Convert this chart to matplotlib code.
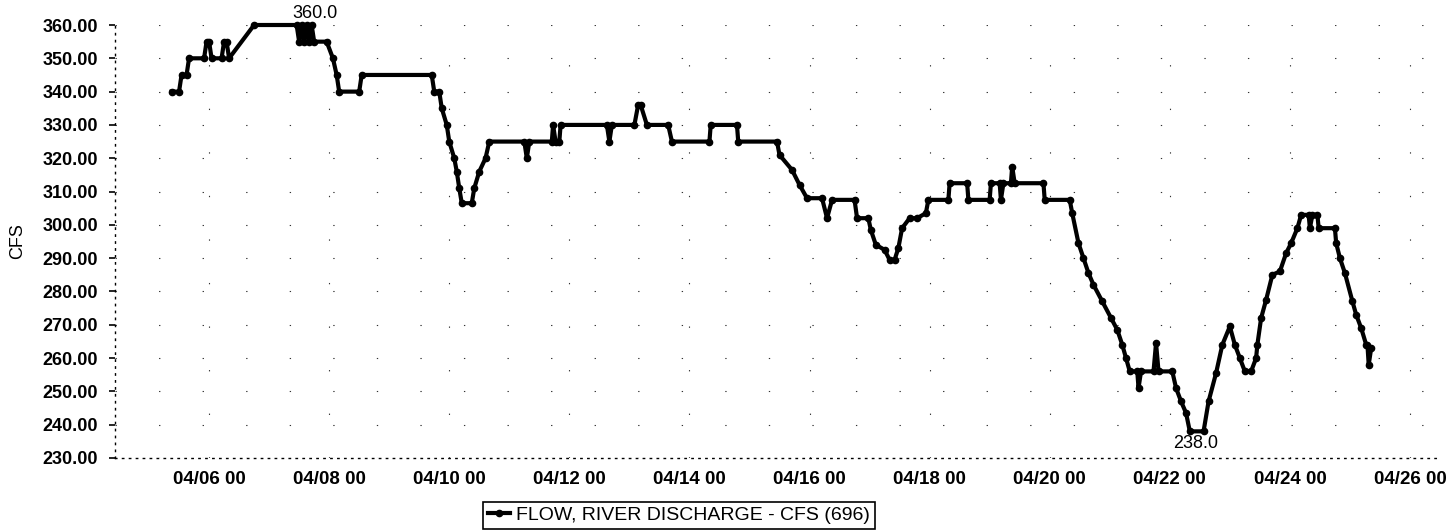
import datetime as dt
import matplotlib
matplotlib.use("Agg")
import matplotlib.pyplot as plt
import matplotlib.dates as mdates

# ---- data (hours relative to 04/06 00:00, flow in CFS) ----
HOURS = [-15, -12, -11, -9, -8, -2, -1, 0, 1, 5, 6, 7, 8,
         18, 35, 36, 37, 38, 39, 40, 41, 42, 47,
         49.5, 51, 52, 60, 61, 89, 90, 92, 93, 95, 96, 98, 99, 100, 101, 105,
         106, 108, 110.5, 112,
         126, 127, 128, 137, 137.5, 138.5, 140, 140.5, 159, 160, 161, 170,
         171.5, 172.5, 175, 183.5, 185, 200, 200.5, 211, 211.5, 227, 228, 233,
         236, 239, 245, 247, 249, 258, 259, 263.5, 264.5, 266.5, 270, 272, 274,
         275.5, 277, 280, 283, 286.5, 287.5, 295.5, 296, 303, 303.5, 312,
         312.5, 316, 316.5, 317.5, 320.5, 321, 322, 333.5, 334, 344, 345,
         347.5, 349.5, 351.5, 353.5, 357, 360.5, 363, 365, 366.5, 368, 371,
         371.5, 372.5, 377.5, 378.5, 379.5, 385, 386.5, 388.5, 390.5, 392,
         397.5, 399.5, 402.5, 405, 408, 410, 412, 414, 416.5, 418.5, 419,
         420.5, 422.5, 425, 428, 430.5, 432.5, 435, 436.5, 439.5, 440, 441,
         443, 443.5, 450, 450.5, 452, 454, 457, 458.5, 460.5, 462.5, 463,
         463.5, 464.5]
CFS = [340, 340, 345, 345, 350, 350, 355, 355, 350, 350, 355, 355, 350,
       360, 360, 355, 360, 355, 360, 355, 360, 355, 355,
       350, 345, 340, 340, 345, 345, 340, 340, 335, 330, 325, 320, 316, 311, 306.5, 306.5,
       311, 316, 320, 325,
       325, 320, 325, 325, 330, 325, 325, 330, 330, 325, 330, 330,
       336, 336, 330, 330, 325, 325, 330, 330, 325, 325, 321, 316.5,
       312, 308, 308, 302, 307.5, 307.5, 302, 302, 298.5, 294, 292.5, 289.5, 289.5,
       293, 299, 302, 302, 303.5, 307.5, 307.5, 312.5, 312.5, 307.5, 307.5,
       312.5, 312.5, 307.5, 312.5, 312.5, 317.5, 312.5, 312.5, 307.5, 307.5, 303.5,
       294.5, 290, 285.5, 282, 277, 272, 268.5, 264, 260, 256, 256,
       251, 256, 256, 264.5, 256, 256, 251, 247, 243.5, 238,
       238, 247, 255.5, 264, 269.5, 264, 260, 256, 256, 260, 264,
       272, 277.5, 285, 286, 291.5, 294.5, 299, 303, 303, 299, 303,
       303, 299, 299, 294.5, 290, 285.5, 277, 273, 269, 264, 264,
       258, 263]

Y_TICKS = [230, 240, 250, 260, 270, 280, 290, 300, 310, 320, 330, 340, 350, 360]
X_TICK_DAYS = [6, 8, 10, 12, 14, 16, 18, 20, 22, 24, 26]
SERIES_NAME = "FLOW, RIVER DISCHARGE - CFS (696)"
Y_LABEL = "CFS"

BASE = dt.datetime(2008, 4, 6, 0, 0)
times = [BASE + dt.timedelta(hours=h) for h in HOURS]

plt.rcParams['font.family'] = ['Liberation Sans', 'DejaVu Sans']

fig = plt.figure(figsize=(14.48, 5.31), dpi=100)
ax = fig.add_axes([115 / 1448, 1 - 458 / 531, (1440 - 115) / 1448, (458 - 25) / 531])

line, = ax.plot(times, CFS, color='black', lw=3.0, marker='o', ms=4.5,
                mfc='black', mec='black', label=SERIES_NAME, zorder=3,
                clip_on=False)

ax.set_ylim(230, 360)
ax.set_xlim(BASE + dt.timedelta(hours=-37.6), BASE + dt.timedelta(hours=492))
ax.set_yticks(Y_TICKS)
ax.set_yticklabels([f"{v:.2f}" for v in Y_TICKS])
xt = [dt.datetime(2008, 4, d) for d in X_TICK_DAYS]
ax.set_xticks(xt)
ax.xaxis.set_major_formatter(mdates.DateFormatter('%m/%d %H'))

ax.grid(True, color='black', lw=0.8, linestyle=(0, (1.2, 38)), alpha=0.8)
for s in ('top', 'right'):
    ax.spines[s].set_visible(False)
for s in ('left', 'bottom'):
    ax.spines[s].set_linestyle((0, (1, 4)))
    ax.spines[s].set_linewidth(1.0)

ax.tick_params(axis='y', length=4, width=1.2, direction='out', pad=8,
               labelsize=13)
ax.tick_params(axis='x', length=0, pad=9, labelsize=13.5)
for lab in ax.get_yticklabels() + ax.get_xticklabels():
    lab.set_fontweight('bold')

ax.set_ylabel(Y_LABEL, fontsize=13, labelpad=12)

# max / min labels
imax = CFS.index(max(CFS))
ax.annotate(f"{max(CFS):.1f}", xy=(times[imax], max(CFS)),
            xytext=(BASE + dt.timedelta(hours=42.5), max(CFS) + 0.8),
            textcoords='data', ha='center', va='bottom', fontsize=13,
            xycoords='data', annotation_clip=False)
imin = CFS.index(min(CFS))
ax.annotate(f"{min(CFS):.1f}", xy=(times[imin], min(CFS)),
            xytext=(BASE + dt.timedelta(hours=394.5), min(CFS) - 1.0),
            textcoords='data', ha='center', va='top', fontsize=13,
            annotation_clip=False)

leg = fig.legend(handles=[line], loc='lower left',
                 bbox_to_anchor=(483 / 1448, 1 - 529 / 531),
                 fancybox=False, framealpha=1, edgecolor='black',
                 fontsize=14, handlelength=1.15, borderpad=0.25,
                 handletextpad=0.3, borderaxespad=0)
leg.get_frame().set_linewidth(1.2)

fig.savefig("out.png", dpi=100)
